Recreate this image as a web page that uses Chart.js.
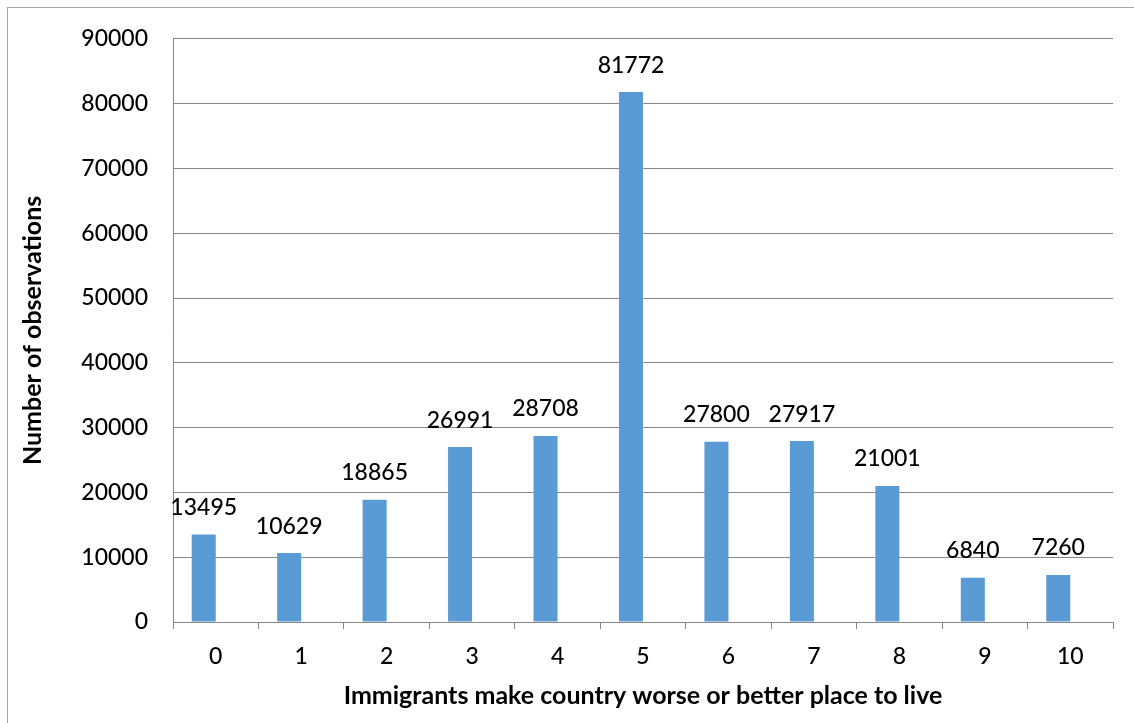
<!DOCTYPE html>
<html>
<head>
<meta charset="utf-8">
<script src="https://cdn.jsdelivr.net/npm/chart.js@4.4.1/dist/chart.umd.min.js"></script>
<style>
  html, body { margin: 0; padding: 0; background: #fff; }
  #wrap { width: 1134px; height: 723px; position: relative; }
</style>
</head>
<body>
<div id="wrap"><canvas id="myChart" width="1134" height="723"></canvas></div>
<script>
const categories = ['0', '1', '2', '3', '4', '5', '6', '7', '8', '9', '10'];
const observations = [13495, 10629, 18865, 26991, 28708, 81772, 27800, 27917, 21001, 6840, 7260];
// second series in the workbook has no values, but it still takes its slot in each group
const emptySeries = [null, null, null, null, null, null, null, null, null, null, null];
const yTicks = [0, 10000, 20000, 30000, 40000, 50000, 60000, 70000, 80000, 90000];

const FONT = 'Lato, Calibri, sans-serif';

// frame around the whole chart
const chartFrame = {
  id: 'chartFrame',
  beforeDraw(chart) {
    const { ctx } = chart;
    ctx.save();
    ctx.fillStyle = '#fff';
    ctx.fillRect(0, 0, chart.width, chart.height);
    ctx.strokeStyle = '#a6a6a6';
    ctx.lineWidth = 1;
    ctx.strokeRect(7.5, 7.5, chart.width + 20, chart.height + 20);
    ctx.restore();
  }
};

// value labels above the bars
const barValueLabels = {
  id: 'barValueLabels',
  afterDatasetsDraw(chart) {
    const { ctx } = chart;
    const meta = chart.getDatasetMeta(0);
    ctx.save();
    ctx.font = '500 23px ' + FONT;
    ctx.fillStyle = '#000';
    ctx.textAlign = 'center';
    ctx.textBaseline = 'middle';
    meta.data.forEach((bar, i) => {
      ctx.fillText(String(observations[i]), bar.x, bar.y - 27);
    });
    ctx.restore();
  }
};

const config = {
  type: 'bar',
  data: {
    labels: categories,
    datasets: [{
      label: 'Observations',
      data: observations,
      backgroundColor: '#5b9bd5',
      borderWidth: 0
    }, {
      label: '',
      data: emptySeries,
      backgroundColor: '#ed7d31'
    }]
  },
  options: {
    responsive: false,
    animation: false,
    layout: { padding: { top: 34, right: 21, left: 0, bottom: 0 } },
    categoryPercentage: 0.5625,
    barPercentage: 1,
    plugins: {
      legend: { display: false },
      tooltip: { enabled: false }
    },
    scales: {
      x: {
        grid: { drawOnChartArea: false, drawTicks: true, tickLength: 7, color: '#868686' },
        border: { color: '#868686' },
        ticks: { color: '#000', font: { family: FONT, size: 23, weight: '500' }, padding: 14 },
        title: {
          display: true,
          text: 'Immigrants make country worse or better place to live',
          color: '#000',
          font: { family: FONT, size: 25, weight: 'bold' },
          padding: { top: 0, bottom: 12 }
        },
        afterFit(scale) { scale.height = 101; }
      },
      y: {
        min: 0,
        max: 90000,
        afterBuildTicks(scale) { scale.ticks = yTicks.map(v => ({ value: v })); },
        grid: { drawTicks: false, color: '#868686' },
        border: { color: '#868686' },
        ticks: {
          color: '#000',
          font: { family: FONT, size: 23, weight: '500' },
          padding: 25,
          callback: v => String(v)
        },
        title: {
          display: true,
          text: 'Number of observations',
          color: '#000',
          font: { family: FONT, size: 25, weight: 'bold' },
          padding: { top: 18, bottom: 0 }
        },
        afterFit(scale) { scale.width = 173; }
      }
    }
  },
  plugins: [chartFrame, barValueLabels]
};

const myChart = new Chart(document.getElementById('myChart'), config);
</script>
</body>
</html>
